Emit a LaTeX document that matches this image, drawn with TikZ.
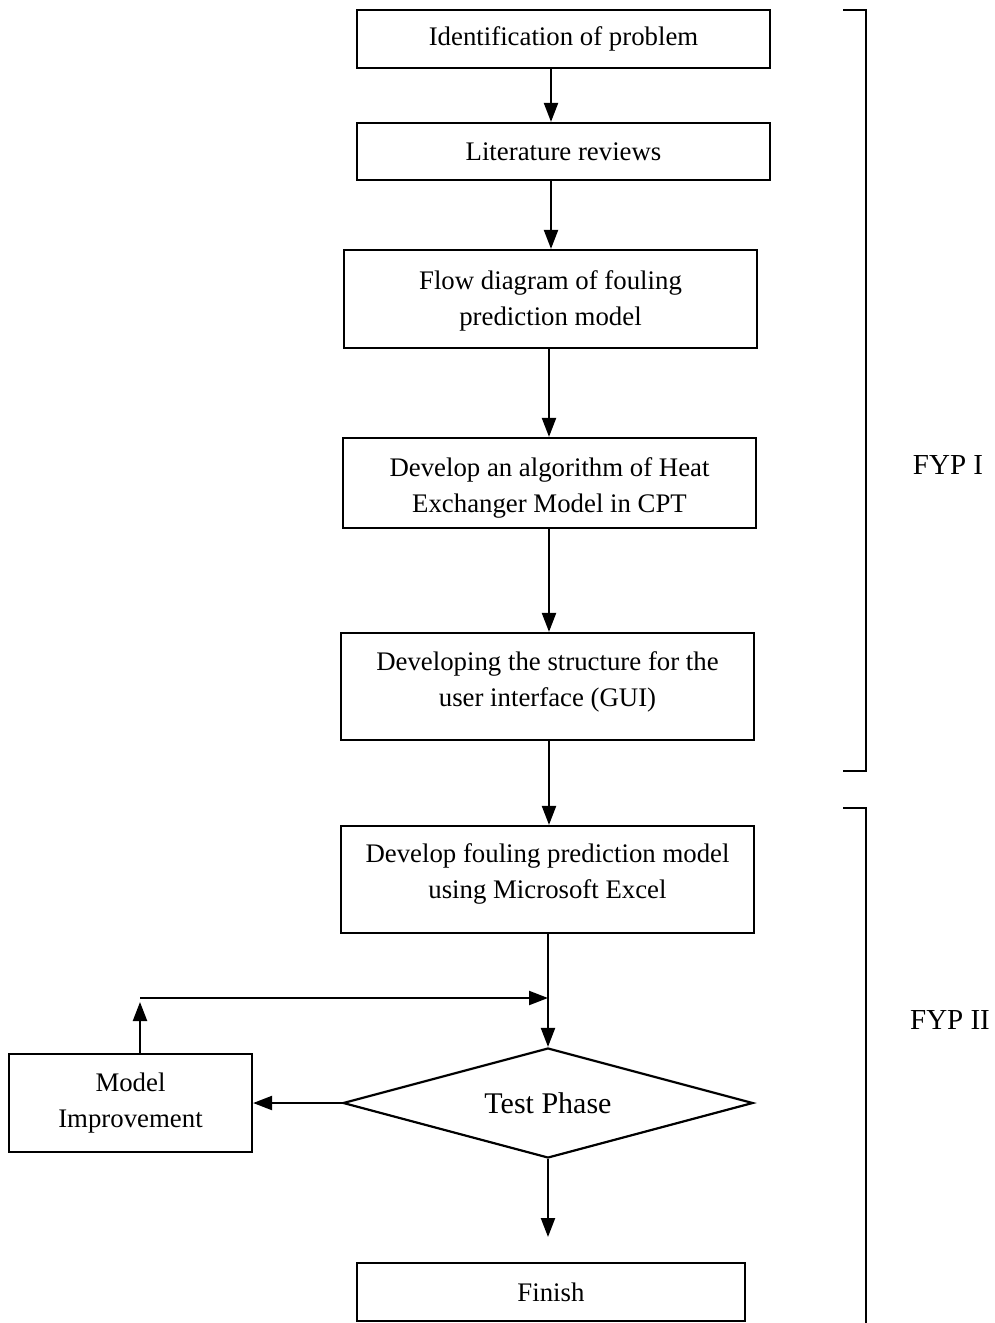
\documentclass[tikz,border=0pt]{standalone}
\usepackage{fontspec}
\setmainfont{Liberation Serif}
\usetikzlibrary{shapes.geometric,arrows.meta}
\begin{document}
\begin{tikzpicture}[x=1pt,y=-1pt,
  every node/.style={font=\fontsize{26.8}{36}\selectfont},
  box/.style={draw,line width=2.2pt,rectangle,inner sep=0pt,align=center,minimum width=413pt},
  dia/.style={draw,line width=2.2pt,diamond,inner sep=0pt,aspect=3.7,minimum width=410pt,minimum height=110pt,font=\fontsize{30}{36}\selectfont},
  arr/.style={line width=2.2pt,-{Triangle[length=19pt,width=14pt]}},
  brk/.style={line width=2.2pt},
  lbl/.style={font=\fontsize{29}{32}\selectfont}]
\useasboundingbox (0,0) rectangle (995,1323);
\node[box,minimum height=58pt] (b1) at (563.5,39) {Identification of problem};
\node[box,minimum height=57pt] (b2) at (563.5,151.5) {Literature reviews};
\node[box,minimum height=98pt,text height=52pt,text depth=0pt] (b3) at (550.5,299) {Flow diagram of fouling\\prediction model};
\node[box,minimum height=90pt,text height=58pt,text depth=0pt] (b4) at (549.5,483) {Develop an algorithm of Heat\\Exchanger Model in CPT};
\node[box,minimum height=107pt,text height=60pt,text depth=20pt] (b5) at (547.5,686.5) {Developing the structure for the\\user interface (GUI)};
\node[box,minimum height=107pt,text height=57pt,text depth=20pt] (b6) at (547.5,879.5) {Develop fouling prediction model\\using Microsoft Excel};
\node[dia] (d) at (548,1103) {Test Phase};
\node[box,minimum width=243pt,minimum height=98pt] (mi) at (130.5,1103) {Model\\Improvement};
\node[box,minimum width=388pt,minimum height=58pt] (fin) at (551,1292) {Finish};
\coordinate (c1) at (551,0);
\coordinate (c2) at (549,0);
\coordinate (c3) at (548,0);
\coordinate (lx) at (140,0);
\coordinate (corner) at (140,998);
\coordinate (fend) at (548,1237);
\draw[arr] (b1.south -| c1) -- (b2.north -| c1);
\draw[arr] (b2.south -| c1) -- (b3.north -| c1);
\draw[arr] (b3.south -| c2) -- (b4.north -| c2);
\draw[arr] (b4.south -| c2) -- (b5.north -| c2);
\draw[arr] (b5.south -| c2) -- (b6.north -| c2);
\draw[arr] (b6.south -| c3) -- (d.north);
\draw[arr] (d.west) -- (mi.east);
\draw[arr] (mi.north -| lx) -- ([yshift=-4pt]corner);
\draw[line width=2.2pt] (corner) -- ++(3,0);
\draw[arr] (corner) -- (corner -| c3);
\draw[arr] (d.south) -- (fend);
\coordinate (k1) at (843,10);
\coordinate (k2) at (866,10);
\coordinate (k3) at (866,771);
\coordinate (k4) at (843,771);
\coordinate (k5) at (843,808);
\coordinate (k6) at (866,808);
\coordinate (k7) at (866,1323);
\draw[brk] (k1) -- (k2) -- (k3) -- (k4);
\draw[brk] (k5) -- (k6) -- (k7);
\node[lbl] (f1) at (948,465) {FYP I};
\node[lbl] (f2) at (950,1020) {FYP II};
\end{tikzpicture}
\end{document}
